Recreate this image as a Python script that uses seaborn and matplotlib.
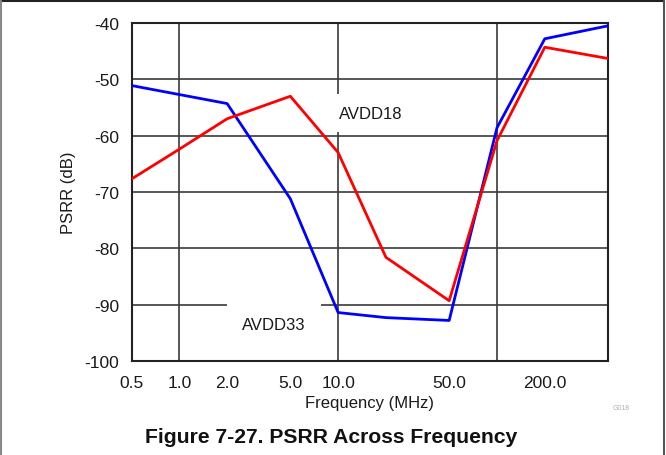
import matplotlib
matplotlib.use("Agg")
import matplotlib.pyplot as plt
from matplotlib.lines import Line2D
import seaborn as sns
import pandas as pd

# ---- data ----
freq_mhz = [0.5, 1.0, 2.0, 5.0, 10.0, 20.0, 50.0, 100.0, 200.0, 500.0]
avdd33 = [-51.1, -52.7, -54.3, -71.2, -91.4, -92.3, -92.8, -58.6, -42.8, -40.5]
avdd18 = [-67.7, -62.4, -57.0, -53.0, -63.0, -81.6, -89.3, -60.9, -44.3, -46.3]
tick_vals = [0.5, 1.0, 2.0, 5.0, 10.0, 50.0, 200.0]
tick_labels = ["0.5", "1.0", "2.0", "5.0", "10.0", "50.0", "200.0"]
y_ticks = [-100, -90, -80, -70, -60, -50, -40]
grid_x = [1.0, 10.0, 100.0]

df = pd.DataFrame({
    "freq": freq_mhz * 2,
    "psrr": avdd33 + avdd18,
    "rail": ["AVDD33"] * len(freq_mhz) + ["AVDD18"] * len(freq_mhz),
})

sns.set_theme(style="white")
plt.rcParams["font.family"] = ["Liberation Sans", "DejaVu Sans"]

fig = plt.figure(figsize=(6.66, 4.56), dpi=100)
ax = fig.add_axes([131.5 / 666, 1 - 362 / 456, (608 - 131.5) / 666, (362 - 24) / 456])

sns.lineplot(data=df, x="freq", y="psrr", hue="rail",
             palette={"AVDD33": "#0000ff", "AVDD18": "#ff0000"},
             linewidth=2.0, legend=False, ax=ax, zorder=5, sort=False)

ax.set_xscale("log")
ax.set_xlim(0.5, 500)
ax.set_ylim(-100, -40)
ax.set_xticks(tick_vals)
ax.set_xticklabels(tick_labels)
ax.xaxis.set_minor_locator(matplotlib.ticker.NullLocator())
ax.set_yticks(y_ticks)
ax.set_yticklabels([str(v) for v in y_ticks])
ax.tick_params(axis="both", length=0, labelsize=12.5, colors="#1a1a1a")
ax.tick_params(axis="y", pad=9)
ax.tick_params(axis="x", pad=10)

# grid
for gx in grid_x:
    ax.axvline(gx, color="#3a3a3a", linewidth=1.2, zorder=1)
for gy in y_ticks[1:-1]:
    ax.axhline(gy, color="#3a3a3a", linewidth=1.2, zorder=1)

for s in ax.spines.values():
    s.set_color("#222222")
    s.set_linewidth(1.5)
    s.set_visible(True)

ax.set_xlabel("Frequency (MHz)", fontsize=12, color="#1a1a1a", labelpad=4)
ax.set_ylabel("PSRR (dB)", fontsize=12, color="#1a1a1a", labelpad=6)

# series labels with white boxes that interrupt the grid
ax.text(10.15, -56.0, "AVDD18", fontsize=12, ha="left", va="center", color="#1a1a1a",
        zorder=3, bbox=dict(boxstyle="square,pad=0.7", facecolor="white", edgecolor="none"))
ax.text(3.95, -93.5, "AVDD33", fontsize=12, ha="center", va="center", color="#1a1a1a",
        zorder=3, bbox=dict(boxstyle="square,pad=0.9", facecolor="white", edgecolor="none"))

fig.text(621 / 666, 1 - 409 / 456, "G018", fontsize=5, color="#b0b0b0", ha="center", va="center")
fig.text(331.5 / 666, 1 - 438 / 456, "Figure 7-27. PSRR Across Frequency",
         fontsize=15.2, fontweight="bold", ha="center", va="center", color="#111111")

# outer frame (top, left, right)
fig.add_artist(Line2D([0.5 / 666, 664 / 666], [1 - 2 / 456, 1 - 2 / 456],
                      transform=fig.transFigure, color="#222222", linewidth=1.5))
fig.add_artist(Line2D([0.8 / 666, 0.8 / 666], [0, 1 - 2 / 456],
                      transform=fig.transFigure, color="#888888", linewidth=1.5))
fig.add_artist(Line2D([664 / 666, 664 / 666], [0, 1 - 2 / 456],
                      transform=fig.transFigure, color="#555555", linewidth=1.5))

fig.savefig("out.png", dpi=100)
